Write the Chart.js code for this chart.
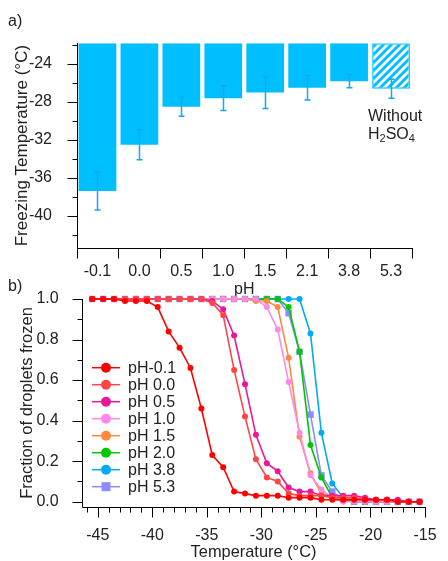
<!DOCTYPE html>
<html>
<head>
<meta charset="utf-8">
<script src="https://cdn.jsdelivr.net/npm/chart.js@4.4.1/dist/chart.umd.min.js"></script>
<style>
  body { margin: 0; width: 448px; height: 561px; position: relative; overflow: hidden; background: #fff; }
  .panel { position: absolute; left: 0; }
  .note { position: absolute; font: 16px "Liberation Sans", Arial, sans-serif; color: #222; line-height: 18px; }
  .note sub { font-size: 11px; vertical-align: -3px; line-height: 0; }
</style>
</head>
<body>
<div class="panel" style="top:0"><canvas id="freeze" width="448" height="300"></canvas></div>
<div class="panel" style="top:261px"><canvas id="frac" width="448" height="300"></canvas></div>
<div class="note" style="left:8px;top:12px">a)</div>
<div class="note" style="left:8px;top:277px">b)</div>
<div class="note" style="left:368px;top:107px">Without<br>H<sub>2</sub>SO<sub>4</sub></div>
<script>
// ---- panel a: freezing temperature per pH ----
var phLabels = ['-0.1', '0.0', '0.5', '1.0', '1.5', '2.1', '3.8', '5.3'];
var freezeTemp = [-37.4, -32.5, -28.5, -27.6, -27.0, -26.5, -25.8, -26.6];
var freezeErr = [2.0, 1.6, 1.0, 1.3, 1.7, 1.3, 0.7, 1.0];
var freezeTicks = [-24, -28, -32, -36, -40];
var freezeTop = -21.8;
var freezeBottom = -43.4;

// ---- panel b: fraction of droplets frozen vs temperature ----
var temps = [-45.5, -44.5, -43.5, -42.5, -41.5, -40.5, -39.5, -38.5, -37.5, -36.5, -35.5,
             -34.5, -33.5, -32.5, -31.5, -30.5, -29.5, -28.5, -27.5, -26.5, -25.5,
             -24.5, -23.5, -22.5, -21.5, -20.5, -19.5, -18.5, -17.5, -16.5, -15.5];
var fracPhM01 = [1, 1, 1, 0.99, 0.99, 0.99, 0.96, 0.84, 0.76, 0.66, 0.46,
                 0.23, 0.17, 0.05, 0.04, 0.03, 0.03, 0.03, 0.02, 0.02, 0.02,
                 0.01, 0.01, 0.01, 0.01, 0.01, 0.01, 0.01, 0, 0, 0];
var fracPh00 = [1, 1, 1, 1, 1, 1, 1, 1, 1, 1, 1,
                0.98, 0.92, 0.65, 0.42, 0.21, 0.12, 0.10, 0.04, 0.03, 0.03,
                0.03, 0.02, 0.02, 0.02, 0.01, 0.01, 0.01, 0, 0, 0];
var fracPh05 = [1, 1, 1, 1, 1, 1, 1, 1, 1, 1, 1,
                0.99, 0.95, 0.82, 0.58, 0.33, 0.19, 0.15, 0.07, 0.05, 0.05,
                0.03, 0.03, 0.03, 0.03, 0.02, 0.01, 0.01, 0.01, 0, 0];
var fracPh10 = [1, 1, 1, 1, 1, 1, 1, 1, 1, 1, 1,
                1, 1, 1, 1, 1, 0.96, 0.85, 0.59, 0.34, 0.13,
                0.06, 0.02, 0, 0, 0, 0, 0, 0, 0, 0];
var fracPh15 = [1, 1, 1, 1, 1, 1, 1, 1, 1, 1, 1,
                1, 1, 1, 1, 0.99, 0.99, 0.96, 0.71, 0.32, 0.14,
                0.04, 0.02, 0.02, 0.01, 0.01, 0, 0, 0, 0, 0];
var fracPh20 = [1, 1, 1, 1, 1, 1, 1, 1, 1, 1, 1,
                1, 1, 1, 1, 1, 1, 1, 0.96, 0.74, 0.28,
                0.12, 0.02, 0.01, 0, 0, 0, 0, 0, 0, 0];
var fracPh38 = [1, 1, 1, 1, 1, 1, 1, 1, 1, 1, 1,
                1, 1, 1, 1, 1, 1, 1, 1, 1, 0.83,
                0.34, 0.09, 0.02, 0, 0, 0, 0, 0, 0, 0];
var fracPh53 = [1, 1, 1, 1, 1, 1, 1, 1, 1, 1, 1,
                1, 1, 1, 1, 1, 1, 1, 0.93, 0.74, 0.43,
                0.13, 0.05, 0.01, 0, 0, 0, 0, 0, 0, 0];
var seriesNames = ['pH-0.1', 'pH 0.0', 'pH 0.5', 'pH 1.0', 'pH 1.5', 'pH 2.0', 'pH 3.8', 'pH 5.3'];
var seriesColors = ['#FF0000', '#FF4545', '#E8189A', '#FF88E8', '#FF8840', '#00C800', '#00AAF5', '#8C8CFF'];
var tempTicks = [-45, -40, -35, -30, -25, -20, -15];
var fracTicks = [0, 0.2, 0.4, 0.6, 0.8, 1.0];

var FONT = '"Liberation Sans", Arial, sans-serif';
var TEXT = '#222';
var BAR_BLUE = '#00BFFF';

Chart.defaults.font.family = FONT;
Chart.defaults.font.size = 16;
Chart.defaults.color = TEXT;

// hatched fill for the "without H2SO4" bar
function hatchPattern(color) {
    var c = document.createElement('canvas');
    c.width = 8;
    c.height = 8;
    var g = c.getContext('2d');
    g.fillStyle = color;
    g.fillRect(0, 0, 8, 8);
    g.strokeStyle = '#fff';
    g.lineWidth = 2.8;
    g.beginPath();
    g.moveTo(0, 8); g.lineTo(8, 0);
    g.moveTo(-4, 4); g.lineTo(4, -4);
    g.moveTo(4, 12); g.lineTo(12, 4);
    g.stroke();
    return g.createPattern(c, 'repeat');
}

// axis lines plus outward tick marks (long for labelled ticks, short for the others)
var axisTicks = {
    id: 'axisTicks',
    afterDraw: function(chart, args, opts) {
        var ctx = chart.ctx, area = chart.chartArea;
        var left = Math.round(area.left) + 0.5, bottom = Math.round(area.bottom) + 0.5;
        ctx.save();
        ctx.strokeStyle = '#000';
        ctx.lineWidth = 1;
        ctx.beginPath();
        ctx.moveTo(left, Math.round(area.top));
        ctx.lineTo(left, bottom);
        ctx.lineTo(Math.round(area.right) + 1, bottom);
        opts.marks.forEach(function(m) {
            var sc = chart.scales[m.axis];
            var len = m.major ? 10 : 5;
            var p = Math.round(sc.getPixelForValue(m.value)) + 0.5;
            if (sc.isHorizontal()) {
                ctx.moveTo(p, bottom);
                ctx.lineTo(p, bottom + len);
            } else {
                ctx.moveTo(left, p);
                ctx.lineTo(left - len, p);
            }
        });
        ctx.stroke();
        ctx.restore();
    }
};

var errorBars = {
    id: 'errorBars',
    afterDatasetsDraw: function(chart) {
        var ctx = chart.ctx, y = chart.scales.y;
        var meta = chart.getDatasetMeta(0);
        ctx.save();
        ctx.strokeStyle = '#14A8EC';
        ctx.lineWidth = 1.5;
        ctx.beginPath();
        meta.data.forEach(function(bar, i) {
            var hi = y.getPixelForValue(freezeTemp[i] + freezeErr[i]);
            var lo = y.getPixelForValue(freezeTemp[i] - freezeErr[i]);
            var x = Math.round(bar.x) + 0.5;
            ctx.moveTo(x, hi); ctx.lineTo(x, lo);
            ctx.moveTo(x - 3, hi); ctx.lineTo(x + 3, hi);
            ctx.moveTo(x - 3, lo); ctx.lineTo(x + 3, lo);
        });
        ctx.stroke();
        ctx.restore();
    }
};

var insideLegend = {
    id: 'insideLegend',
    afterDraw: function(chart, args, opts) {
        var ctx = chart.ctx;
        ctx.save();
        ctx.font = '16px ' + FONT;
        ctx.textBaseline = 'middle';
        chart.data.datasets.forEach(function(ds, i) {
            var y = opts.top + i * opts.step;
            var mid = (opts.x1 + opts.x2) / 2;
            ctx.strokeStyle = ds.borderColor;
            ctx.lineWidth = 1.5;
            ctx.beginPath();
            ctx.moveTo(opts.x1, y);
            ctx.lineTo(opts.x2, y);
            ctx.stroke();
            ctx.fillStyle = ds.borderColor;
            ctx.beginPath();
            if (ds.pointStyle === 'rect') {
                ctx.rect(mid - 4.5, y - 4.5, 9, 9);
            } else {
                ctx.arc(mid, y, 5, 0, Math.PI * 2);
            }
            ctx.fill();
            ctx.fillStyle = TEXT;
            ctx.fillText(ds.label, opts.textX, y + 1);
        });
        ctx.restore();
    }
};

// ---- chart a ----
var freezeMarks = [];
for (var b = 0; b <= phLabels.length; b++) freezeMarks.push({ axis: 'x', value: b - 0.5, major: true });
for (var v = -42; v <= -22; v += 2) freezeMarks.push({ axis: 'y', value: v, major: v % 4 === 0 });

var barColors = phLabels.map(function(l, i) {
    return i === phLabels.length - 1 ? hatchPattern(BAR_BLUE) : BAR_BLUE;
});
var barBorders = phLabels.map(function(l, i) { return i === phLabels.length - 1 ? 1.5 : 0; });

new Chart(document.getElementById('freeze'), {
    type: 'bar',
    data: {
        labels: phLabels,
        datasets: [{
            data: freezeTemp.map(function(t) { return [freezeTop, t]; }),
            backgroundColor: barColors,
            borderColor: BAR_BLUE,
            borderWidth: barBorders,
            borderSkipped: false,
            barPercentage: 0.9,
            categoryPercentage: 1.0
        }]
    },
    options: {
        responsive: false,
        animation: false,
        events: [],
        layout: { padding: { top: 43.2, right: 36, left: 0, bottom: 0 } },
        plugins: {
            legend: { display: false },
            tooltip: { enabled: false },
            axisTicks: { marks: freezeMarks }
        },
        scales: {
            x: {
                offset: true,
                grid: { display: false },
                border: { display: false },
                ticks: { padding: 5.5, color: TEXT, font: { size: 16 } },
                title: { display: true, text: 'pH', color: TEXT, font: { size: 16, lineHeight: 1 }, padding: { top: 0, bottom: 2 } },
                afterFit: function(sc) { sc.height = 52; }
            },
            y: {
                min: freezeBottom,
                max: freezeTop,
                grid: { display: false },
                border: { display: false },
                afterBuildTicks: function(sc) {
                    sc.ticks = freezeTicks.map(function(t) { return { value: t }; });
                },
                ticks: { padding: 16.5, color: TEXT, font: { size: 16 } },
                title: { display: true, text: 'Freezing Temperature (°C)', color: TEXT, font: { size: 17, lineHeight: 1 }, padding: { top: 13.5, bottom: 0 } },
                afterFit: function(sc) { sc.width = 76.5; }
            }
        }
    },
    plugins: [errorBars, axisTicks]
});

// ---- chart b ----
var fracSeries = [fracPhM01, fracPh00, fracPh05, fracPh10, fracPh15, fracPh20, fracPh38, fracPh53];
var fracMarks = [];
for (var t = -46; t <= -15; t++) fracMarks.push({ axis: 'x', value: t, major: t % 5 === 0 });
for (var k = 0; k <= 10; k++) fracMarks.push({ axis: 'y', value: k / 10, major: k % 2 === 0 });

new Chart(document.getElementById('frac'), {
    type: 'line',
    data: {
        datasets: fracSeries.map(function(vals, i) {
            var square = i === fracSeries.length - 1;
            return {
                label: seriesNames[i],
                data: vals.map(function(f, j) { return { x: temps[j], y: f }; }),
                borderColor: seriesColors[i],
                backgroundColor: seriesColors[i],
                borderWidth: 1.6,
                pointStyle: square ? 'rect' : 'circle',
                pointRadius: square ? 4.6 : 3,
                pointBorderWidth: 0,
                tension: 0,
                clip: false
            };
        })
    },
    options: {
        responsive: false,
        animation: false,
        events: [],
        layout: { padding: { top: 38, right: 14.7, left: 0, bottom: 0 } },
        plugins: {
            legend: { display: false },
            tooltip: { enabled: false },
            axisTicks: { marks: fracMarks },
            insideLegend: { top: 106.7, step: 17, x1: 92, x2: 120, textX: 128 }
        },
        scales: {
            x: {
                type: 'linear',
                min: -46.44,
                max: -15,
                grid: { display: false },
                border: { display: false },
                afterBuildTicks: function(sc) {
                    sc.ticks = tempTicks.map(function(t) { return { value: t }; });
                },
                ticks: { padding: 11.4, color: TEXT, font: { size: 16 } },
                title: { display: true, text: 'Temperature (°C)', color: TEXT, font: { size: 16.4, lineHeight: 1 }, padding: { top: 0, bottom: 0.3 } },
                afterFit: function(sc) { sc.height = 54; }
            },
            y: {
                min: -0.026,
                max: 1.0,
                grid: { display: false },
                border: { display: false },
                afterBuildTicks: function(sc) {
                    sc.ticks = fracTicks.map(function(t) { return { value: t }; });
                },
                ticks: {
                    padding: 15.3,
                    color: TEXT,
                    font: { size: 16 },
                    callback: function(val) { return Number(val).toFixed(1); }
                },
                title: { display: true, text: 'Fraction of droplets frozen', color: TEXT, font: { size: 16.5, lineHeight: 1 }, padding: { top: 18.75, bottom: 0 } },
                afterFit: function(sc) { sc.width = 82; }
            }
        }
    },
    plugins: [axisTicks, insideLegend]
});
</script>
</body>
</html>
